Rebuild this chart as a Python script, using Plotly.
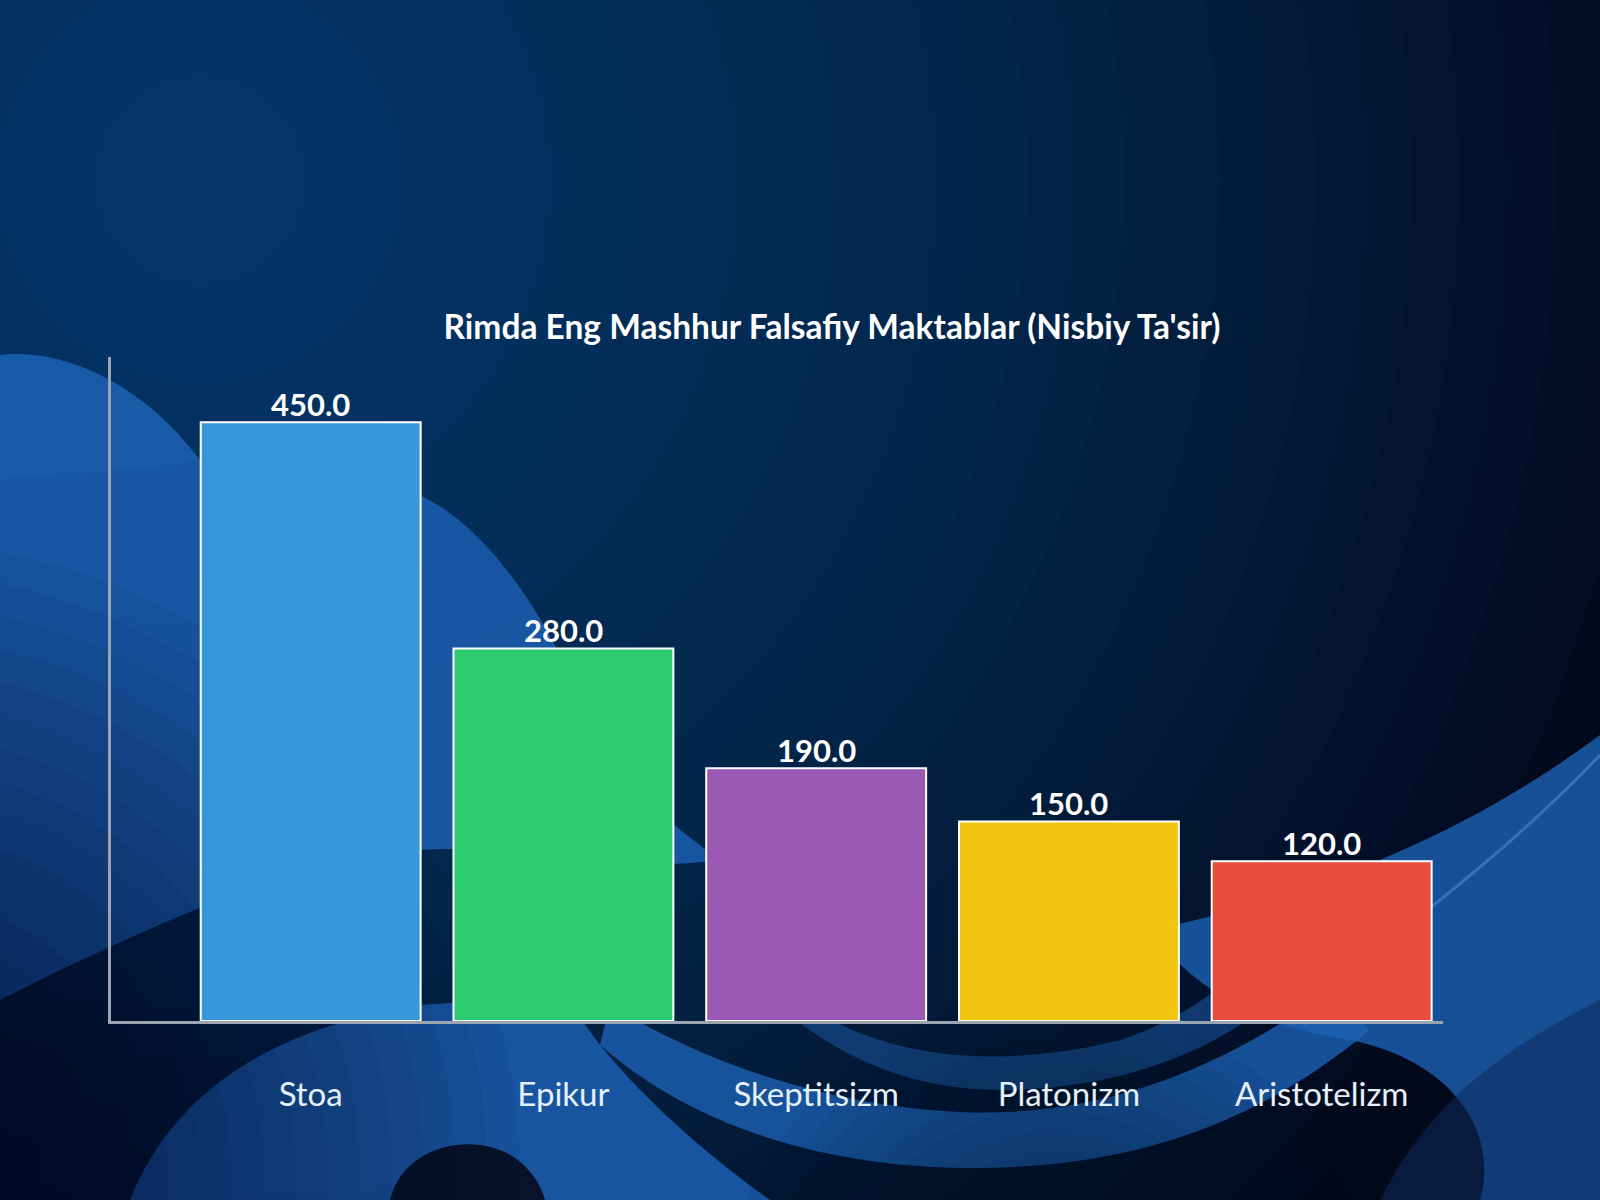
import re
import plotly.graph_objects as go

# data
schools = ["Stoa", "Epikur", "Skeptitsizm", "Platonizm", "Aristotelizm"]
influence = [450, 280, 190, 150, 120]
bar_colors = ["#3498db", "#2ecc71", "#9b59b6", "#f1c40f", "#e74c3c"]
title_text = "Rimda Eng Mashhur Falsafiy Maktablar (Nisbiy Ta'sir)"

W, H = 1600, 1200


def px_path(s):
    # pixel coords (origin top-left) -> paper coords
    def conv(m):
        x, y = float(m.group(1)), float(m.group(2))
        return f"{x / W:.4f},{1 - y / H:.4f}"
    return re.sub(r"(-?\d+\.?\d*),(-?\d+\.?\d*)", conv, s)


def blob(path, color, opacity):
    return dict(type="path", xref="paper", yref="paper", layer="below",
                path=px_path(path), fillcolor=color, opacity=opacity, line_width=0)


def disc(cx, cy, r, color, opacity):
    return dict(type="circle", xref="paper", yref="paper", layer="below",
                x0=(cx - r) / W, x1=(cx + r) / W, y0=1 - (cy + r) / H, y1=1 - (cy - r) / H,
                fillcolor=color, opacity=opacity, line_width=0)


fig = go.Figure()

fig.add_trace(go.Bar(
    x=schools,
    y=influence,
    marker=dict(color=bar_colors, line=dict(color="white", width=2)),
    width=0.87,
    showlegend=False,
    hoverinfo="skip",
))

# value labels just above each bar
for s, v in zip(schools, influence):
    fig.add_annotation(x=s, y=v, text=f"{v:.1f}", showarrow=False,
                       yanchor="bottom", yshift=-3,
                       font=dict(family="Lato", size=31, color="white", weight="bold"))

# background: dark wallpaper with a glow top-left and blue waves
bg = []
for i in range(30):
    bg.append(disc(200, 180, 1500 - i * 48, "#2a7cc4", 0.028))

# left blob
bg.append(blob("M0,355 C60,348 140,380 200,460 C280,485 370,470 425,498 "
               "C480,525 540,600 580,700 C620,790 680,830 720,860 "
               "C650,870 560,860 470,850 C350,840 200,900 0,1000 Z", "#1c5eb0", 0.85))
bg.append(blob("M0,355 C60,348 140,380 200,460 C120,475 60,470 0,480 Z", "#2a72c4", 0.15))

# bottom-left lobe
bg.append(blob("M130,1200 C170,1100 260,1030 420,1005 C480,1000 540,1000 575,1010 "
               "C620,1080 700,1150 770,1200 Z", "#1b5bab", 0.9))
bg.append(blob("M390,1200 C400,1160 440,1140 480,1145 C520,1150 540,1180 545,1200 Z",
               "#050c1e", 0.9))

# middle swoosh under the labels
bg.append(blob("M610,1005 C700,1060 820,1105 960,1112 C1100,1118 1220,1070 1330,990 "
               "L1370,1030 C1250,1130 1120,1170 960,1168 C800,1165 680,1115 600,1045 Z",
               "#1d61b4", 0.8))
bg.append(blob("M800,1000 C880,1060 1000,1070 1120,1040 C1180,1020 1220,990 1250,960 "
               "L1300,975 C1230,1050 1120,1090 1000,1090 C900,1090 830,1050 770,1000 Z",
               "#174f93", 0.65))

# right wave
bg.append(blob("M1150,930 C1300,900 1460,840 1600,735 L1600,1200 L1480,1200 "
               "C1500,1130 1450,1060 1350,1040 C1280,1030 1200,1000 1150,930 Z",
               "#1d61b4", 0.8))
bg.append(blob("M1380,1200 C1420,1120 1480,1060 1600,1000 L1600,1200 Z", "#0d2c5c", 0.55))
bg.append(dict(type="path", xref="paper", yref="paper", layer="below",
               path=px_path("M1300,1010 C1400,930 1500,860 1600,755"),
               line=dict(color="#5a9be0", width=3), opacity=0.45))

# darken towards the lower left and lower middle
for i in range(16):
    bg.append(disc(-120, 1180, 640 - i * 32, "#040b1e", 0.045))
for i in range(10):
    bg.append(disc(1050, 1330, 330 - i * 22, "#040b1e", 0.05))

fig.update_layout(
    width=W,
    height=H,
    margin=dict(l=0, r=0, t=0, b=0),
    paper_bgcolor="#03081a",
    plot_bgcolor="rgba(0,0,0,0)",
    font=dict(family="Lato", color="white"),
    title=dict(text=title_text, x=832 / W, y=1 - 327 / H, xref="paper", yref="paper",
               xanchor="center", yanchor="middle",
               font=dict(family="Lato", size=33.5, color="white", weight="bold")),
    xaxis=dict(domain=[111 / W, 1443 / W], range=[-0.79, 4.48],
               showline=True, linecolor="#9aa5b1", linewidth=3,
               showgrid=False, zeroline=False, ticks="",
               ticklabelstandoff=42,
               tickfont=dict(family="Lato", size=33, color="#e6f0fa")),
    yaxis=dict(domain=[1 - 1021 / H, 1 - 357 / H], range=[0, 499],
               showline=True, linecolor="#9aa5b1", linewidth=3,
               showgrid=False, zeroline=False, showticklabels=False, ticks=""),
    shapes=bg,
)

fig.write_html("out.html", config={"displayModeBar": False},
               post_script="document.body.style.margin='0';")
